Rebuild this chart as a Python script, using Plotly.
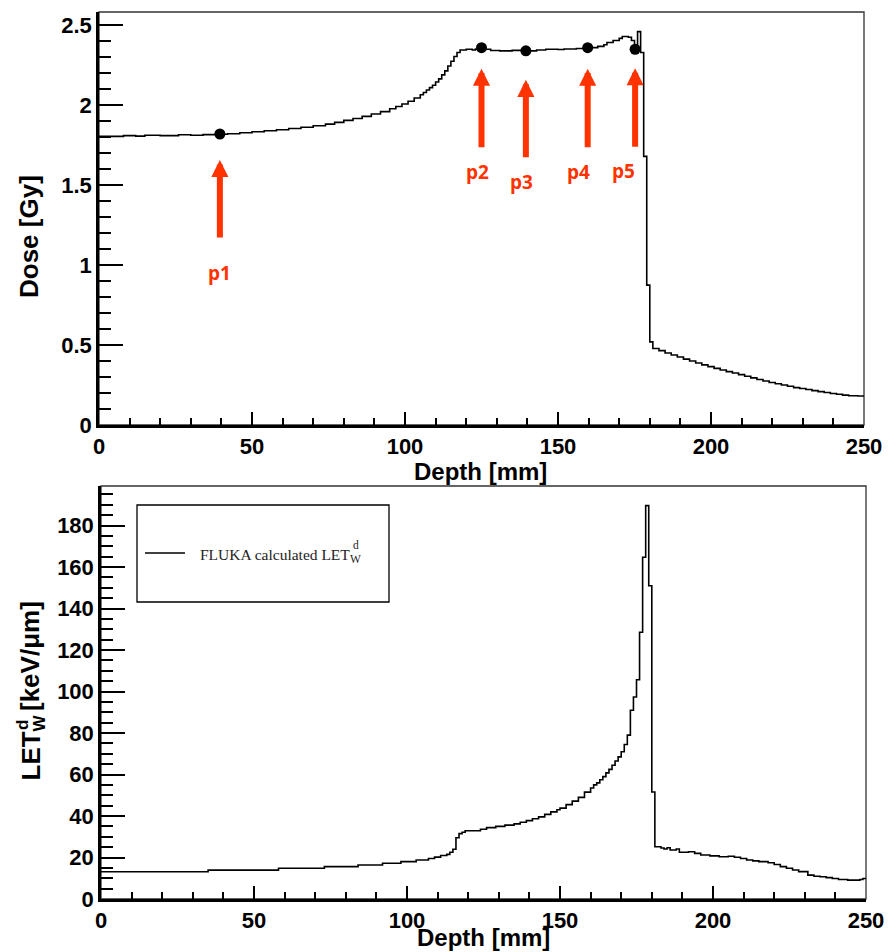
import plotly.graph_objects as go

W, H = 888, 952

# ---------------- data ----------------
# Depth-dose histogram: left bin edges [mm] and bin contents [Gy]
dose_edges = [0, 8, 12, 15, 20, 26, 30, 34, 38, 42, 46, 50, 54, 58, 62, 66, 70, 74, 77, 80,
              83, 86, 89, 92, 95, 97, 99, 101, 103, 105, 106, 107, 108, 109, 110, 111, 112,
              113, 114, 115, 116, 117, 118, 120, 122, 123, 124, 126, 128, 131, 135, 140, 143,
              146, 150, 152, 156, 160, 163, 165, 166, 168, 170, 171, 173, 174, 175, 176, 177,
              178, 179, 180, 181, 183, 185, 187, 189, 191, 193, 195, 197, 199, 201, 203, 205,
              207, 209, 211, 213, 215, 217, 219, 221, 223, 225, 227, 229, 231, 233, 235, 237,
              239, 241, 243, 245, 248]
dose_vals = [1.805, 1.810, 1.807, 1.812, 1.810, 1.815, 1.812, 1.816, 1.818, 1.822, 1.828,
             1.834, 1.840, 1.847, 1.854, 1.862, 1.872, 1.882, 1.893, 1.905, 1.917, 1.930,
             1.945, 1.960, 1.978, 1.992, 2.008, 2.025, 2.045, 2.065, 2.080, 2.095, 2.110,
             2.125, 2.145, 2.165, 2.190, 2.215, 2.245, 2.275, 2.305, 2.330, 2.345, 2.350,
             2.345, 2.352, 2.358, 2.350, 2.342, 2.340, 2.343, 2.340, 2.345, 2.350, 2.348,
             2.352, 2.355, 2.360, 2.368, 2.378, 2.392, 2.405, 2.418, 2.430, 2.425, 2.405,
             2.360, 2.460, 2.330, 1.680, 0.875, 0.520, 0.478, 0.465, 0.450, 0.438, 0.425,
             0.412, 0.400, 0.388, 0.376, 0.365, 0.354, 0.344, 0.334, 0.325, 0.315, 0.305,
             0.295, 0.285, 0.275, 0.266, 0.258, 0.250, 0.242, 0.234, 0.228, 0.222, 0.215,
             0.209, 0.203, 0.197, 0.192, 0.187, 0.183, 0.181]

# Dose-averaged LET in water: left bin edges [mm] and bin contents [keV/um]
let_edges = [0, 35, 58, 73, 84, 92, 98, 103, 107, 109, 111, 113, 114, 115, 116, 117, 118,
             119, 124, 126, 129, 132, 135, 137, 139, 141, 143, 145, 147, 149, 150, 152, 154,
             156, 158, 160, 161, 162, 163, 164, 165, 166, 167, 168, 169, 170, 171, 172, 173,
             174, 175, 176, 177, 178, 179, 180, 181, 183, 184, 185, 186, 188, 189, 192, 194,
             196, 199, 202, 205, 207, 209, 211, 213, 215, 218, 220, 222, 224, 226, 228, 231,
             233, 235, 237, 239, 241, 244, 248, 249]
let_vals = [13.1, 13.9, 14.8, 15.6, 16.4, 17.2, 18.0, 18.8, 19.5, 20.2, 21.0, 21.5, 22.5,
            24.0, 29.5, 31.5, 32.2, 32.9, 33.6, 34.4, 35.0, 35.6, 36.2, 37.0, 37.8, 38.7,
            39.6, 40.8, 42.0, 43.0, 43.8, 45.5, 47.2, 49.0, 51.5, 53.5, 55.0, 56.0, 57.5,
            59.0, 60.8, 62.5, 64.5, 66.5, 68.5, 71.0, 74.5, 79.0, 91.0, 97.4, 105.7, 128.6,
            164.7, 189.6, 151.0, 51.6, 25.2, 24.6, 24.1, 24.7, 23.6, 24.1, 22.5, 22.8, 22.0,
            21.2, 20.8, 20.4, 20.6, 20.1, 19.5, 18.8, 18.4, 18.0, 17.5, 16.6, 15.6, 14.8,
            14.0, 13.2, 11.5, 11.0, 10.7, 10.3, 9.9, 9.4, 9.1, 9.4, 9.9]

DEPTH_MAX = 250

# Measurement points along the spread-out Bragg peak
point_names = ["p1", "p2", "p3", "p4", "p5"]
point_depth = [39.5, 125.0, 139.5, 159.7, 175.2]
point_dose = [1.82, 2.36, 2.34, 2.36, 2.35]

# ---------------- layout helpers ----------------
def fx(px):
    return px / W


def fy(py):
    return 1 - py / H


TOP_X = [fx(99), fx(864)]
TOP_Y = [fy(425), fy(12)]
BOT_X = [fx(101), fx(866)]
BOT_Y = [fy(899), fy(486)]

dose_max = max(dose_vals) * 1.05
let_max = max(let_vals) * 1.05

TICK_FONT = dict(family="Liberation Sans, Arial, sans-serif", size=22, color="black",
                 weight="bold")
TITLE_FONT = dict(family="Liberation Sans, Arial, sans-serif", size=24, color="black",
                  weight="bold")
RED = "#FF3300"

fig = go.Figure()

# dose histogram
fig.add_trace(go.Scatter(
    x=dose_edges + [DEPTH_MAX], y=dose_vals + [dose_vals[-1]],
    mode="lines", line=dict(color="black", width=1.6, shape="hv"),
    xaxis="x", yaxis="y", showlegend=False, hoverinfo="skip"))

# measurement points
fig.add_trace(go.Scatter(
    x=point_depth, y=point_dose, mode="markers", text=point_names,
    marker=dict(color="black", size=11, symbol="circle"),
    xaxis="x", yaxis="y", showlegend=False))

# LET histogram
fig.add_trace(go.Scatter(
    x=let_edges + [DEPTH_MAX], y=let_vals + [let_vals[-1]],
    mode="lines", line=dict(color="black", width=1.6, shape="hv"),
    xaxis="x2", yaxis="y2", name="FLUKA calculated LET", showlegend=False,
    hoverinfo="skip"))


def xaxis_style(domain, anchor):
    return dict(domain=domain, anchor=anchor, range=[0, DEPTH_MAX], tick0=0, dtick=50,
                ticks="inside", ticklen=13, tickwidth=1.5, tickcolor="black",
                showline=True, linewidth=2.5, linecolor="black", mirror=False,
                showgrid=False, zeroline=False, tickfont=TICK_FONT,
                minor=dict(ticks="inside", ticklen=7, tickwidth=1.5, tickcolor="black",
                           dtick=10, showgrid=False),
                automargin=False)


def yaxis_style(domain, anchor, rmax, dtick, mdtick):
    return dict(domain=domain, anchor=anchor, range=[0, rmax], tick0=0, dtick=dtick,
                ticks="inside", ticklen=24, tickwidth=1.5, tickcolor="black",
                showline=True, linewidth=2.5, linecolor="black", mirror=False,
                showgrid=False, zeroline=False, tickfont=TICK_FONT,
                minor=dict(ticks="inside", ticklen=12, tickwidth=1.5, tickcolor="black",
                           dtick=mdtick, showgrid=False),
                automargin=False)


annotations = []
shapes = []

# frames (top and right edges)
for xr, yr in (("x", "y"), ("x2", "y2")):
    shapes.append(dict(type="rect", xref=xr + " domain", yref=yr + " domain",
                       x0=0, x1=1, y0=0, y1=1, line=dict(color="#333333", width=1.3),
                       layer="below"))

# axis titles
annotations.append(dict(text="Depth [mm]", xref="paper", yref="paper",
                        x=fx(481), y=fy(471), showarrow=False, font=TITLE_FONT,
                        xanchor="center", yanchor="middle"))
annotations.append(dict(text="Depth [mm]", xref="paper", yref="paper",
                        x=fx(483), y=fy(937), showarrow=False, font=TITLE_FONT,
                        xanchor="center", yanchor="middle"))
annotations.append(dict(text="Dose [Gy]", xref="paper", yref="paper",
                        x=fx(29), y=fy(237), showarrow=False,
                        font=dict(TITLE_FONT, size=26),
                        textangle=-90, xanchor="center", yanchor="middle"))

LET_FONT = dict(TITLE_FONT, size=26)
SUB_FONT = dict(TITLE_FONT, size=17)
annotations.append(dict(text="LET", xref="paper", yref="paper", x=fx(30), y=fy(783),
                        showarrow=False, font=LET_FONT, textangle=-90,
                        xanchor="center", yanchor="bottom"))
annotations.append(dict(text="W", xref="paper", yref="paper", x=fx(39), y=fy(734),
                        showarrow=False, font=SUB_FONT, textangle=-90,
                        xanchor="center", yanchor="bottom"))
annotations.append(dict(text="d", xref="paper", yref="paper", x=fx(22), y=fy(732),
                        showarrow=False, font=SUB_FONT, textangle=-90,
                        xanchor="center", yanchor="bottom"))
annotations.append(dict(text="[keV/μm]", xref="paper", yref="paper", x=fx(30), y=fy(713),
                        showarrow=False, font=LET_FONT, textangle=-90,
                        xanchor="center", yanchor="bottom"))

# legend box for the LET panel
shapes.append(dict(type="rect", xref="paper", yref="paper", x0=fx(137), x1=fx(389),
                   y0=fy(602), y1=fy(505), line=dict(color="black", width=1.3),
                   fillcolor="white"))
shapes.append(dict(type="line", xref="paper", yref="paper", x0=fx(145), x1=fx(185),
                   y0=fy(553), y1=fy(553), line=dict(color="black", width=1.5)))
SERIF = "Liberation Serif, Times New Roman, serif"
annotations.append(dict(text="FLUKA calculated LET", xref="paper", yref="paper",
                        x=fx(198), y=fy(554), showarrow=False,
                        font=dict(family=SERIF, size=15.5, color="#222222"),
                        xanchor="left", yanchor="middle"))
annotations.append(dict(text="W", xref="paper", yref="paper", x=fx(348), y=fy(559),
                        showarrow=False, font=dict(family=SERIF, size=11.5, color="#222222"),
                        xanchor="left", yanchor="middle"))
annotations.append(dict(text="d", xref="paper", yref="paper", x=fx(351), y=fy(545),
                        showarrow=False, font=dict(family=SERIF, size=11.5, color="#222222"),
                        xanchor="left", yanchor="middle"))

# arrows and labels for the measurement points (pixel offsets)
arrow_gap = [26, 21, 29, 21, 19]
arrow_len = [104, 100, 107, 100, 98]
label_drop = [139, 124, 131, 124, 122]
label_dx = [0, -4, -4, -9, -12]
for name, d, v, g, ln, ld, dx in zip(point_names, point_depth, point_dose,
                                     arrow_gap, arrow_len, label_drop, label_dx):
    annotations.append(dict(x=d, y=v, xref="x", yref="y", text="", showarrow=True,
                            ax=0, ay=ln, arrowhead=2, arrowsize=0.57, arrowwidth=6,
                            arrowcolor=RED, standoff=g, borderpad=0))
    annotations.append(dict(x=d, y=v, xref="x", yref="y", text=name, showarrow=False,
                            yshift=-ld, xshift=dx,
                            font=dict(family="Open Sans, sans-serif", size=19,
                                      color=RED, weight="bold"),
                            xanchor="center", yanchor="middle"))

fig.update_layout(
    width=W, height=H, margin=dict(l=0, r=0, t=0, b=0),
    paper_bgcolor="white", plot_bgcolor="white",
    xaxis=xaxis_style(TOP_X, "y"),
    yaxis=yaxis_style(TOP_Y, "x", dose_max, 0.5, 0.1),
    xaxis2=xaxis_style(BOT_X, "y2"),
    yaxis2=yaxis_style(BOT_Y, "x2", let_max, 20, 5),
    annotations=annotations, shapes=shapes, showlegend=False,
)

fig.write_html("out.html")
